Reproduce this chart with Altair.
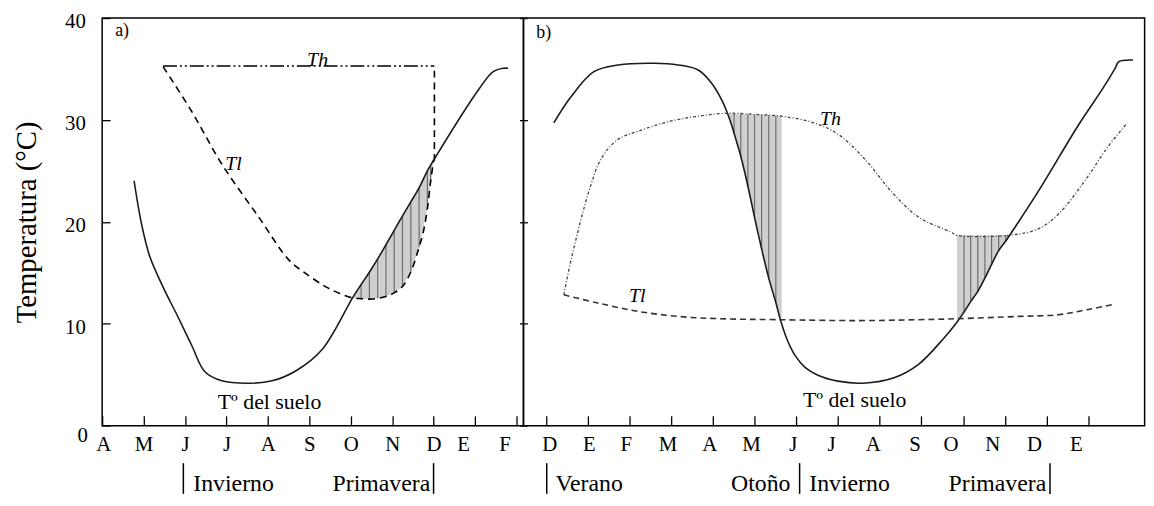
import altair as alt
import pandas as pd

FONT = "Liberation Serif"

# ---------------- panel a) : x = month index (A = 0 ... F = 10) ----------------
months_a = ["A", "M", "J", "J", "A", "S", "O", "N", "D", "E", "F"]

soil_a_x = [0.77, 0.95, 1.15, 1.47, 1.84, 2.16, 2.48, 2.89, 3.57, 4.10, 4.67, 5.31, 6.04, 6.25, 6.45,
            6.65, 6.85, 7.05, 7.25, 7.45, 7.65, 7.85, 7.99, 9.11, 9.44, 9.68, 9.80]
soil_a_y = [24.04, 19.80, 16.60, 13.60, 10.60, 7.90, 5.30, 4.41, 4.18, 4.41, 5.38, 7.49, 12.53, 13.85, 15.06,
            16.37, 17.76, 19.17, 20.59, 21.96, 23.34, 25.01, 25.99, 33.12, 34.74, 35.07, 35.07]

tl_a_x = [1.47, 2.16, 2.89, 3.78, 4.51, 4.91, 5.39, 5.72, 6.04, 6.25, 6.45, 6.65, 6.85, 7.05,
          7.25, 7.45, 7.65, 7.76, 7.85, 7.93, 8.00]
tl_a_y = [35.23, 30.85, 25.66, 20.47, 16.25, 14.96, 13.65, 13.01, 12.55, 12.47, 12.43, 12.50, 12.68, 13.04,
          13.67, 15.09, 17.52, 19.17, 21.30, 24.00, 25.99]
tl_a_vert_x = [8.02, 8.02]
tl_a_vert_y = [25.99, 35.30]

th_a_x = [1.47, 8.02]
th_a_y = [35.30, 35.30]

shade_a_x = [6.04, 6.25, 6.45, 6.65, 6.85, 7.05, 7.25, 7.45, 7.65, 7.85, 7.93, 8.00]
shade_a_lo = [12.53, 12.47, 12.43, 12.50, 12.68, 13.04, 13.67, 15.09, 17.52, 21.30, 24.00, 25.99]
shade_a_hi = [12.53, 13.85, 15.06, 16.37, 17.76, 19.17, 20.59, 21.96, 23.34, 25.01, 25.60, 25.99]

season_bars_a = [1.96, 8.00]
seasons_a_left = ["Invierno"]
seasons_a_left_x = [2.20]
seasons_a_right = ["Primavera"]
seasons_a_right_x = [7.92]

# ---------------- panel b) : x = month index (D = 0 ... E = 13) ----------------
months_b = ["D", "E", "F", "M", "A", "M", "J", "J", "A", "S", "O", "N", "D", "E"]

soil_b_x = [0.19, 0.58, 1.15, 1.73, 2.59, 3.17, 3.65, 3.94, 4.23, 4.42, 4.51, 4.67, 4.84, 5.00,
            5.17, 5.34, 5.51, 5.62, 5.78, 5.97, 6.21, 6.52, 7.00, 7.59, 8.36, 8.93, 9.51, 9.85,
            10.02, 10.18, 10.35, 10.52, 10.68, 10.85, 11.02, 11.11, 11.81, 12.77, 13.35, 13.64,
            13.73, 14.07]
soil_b_y = [29.71, 32.15, 34.74, 35.40, 35.56, 35.40, 34.91, 33.77, 31.83, 29.88, 28.69, 26.44, 23.52, 20.44,
            17.35, 14.49, 12.10, 10.41, 8.47, 6.91, 5.74, 4.96, 4.38, 4.18, 4.74, 6.03, 8.47, 10.15,
            11.16, 12.18, 13.19, 14.49, 15.83, 17.19, 18.13, 18.67, 23.07, 29.56, 33.12, 35.07,
            35.72, 35.88]

th_b_x = [0.43, 0.62, 1.06, 1.34, 1.73, 2.21, 2.98, 3.65, 4.34, 5.09, 5.65, 6.43, 7.01, 7.68,
          8.26, 8.93, 9.70, 9.85, 11.11, 11.81, 12.29, 12.97, 13.45, 13.93]
th_b_y = [12.85, 16.57, 23.39, 26.31, 28.10, 28.90, 29.88, 30.37, 30.66, 30.53, 30.37, 29.71, 28.58, 25.99,
          23.07, 20.47, 19.01, 18.69, 18.69, 19.34, 20.80, 24.36, 27.28, 29.71]

tl_b_x = [0.43, 1.25, 2.21, 3.17, 4.13, 5.57, 7.49, 8.93, 9.89, 11.33, 12.29, 12.97, 13.64]
tl_b_y = [12.85, 12.04, 11.22, 10.73, 10.51, 10.41, 10.32, 10.41, 10.51, 10.73, 10.90, 11.39, 11.94]

shade_b1_x = [4.34, 4.51, 4.67, 4.84, 5.00, 5.17, 5.34, 5.51, 5.65]
shade_b1_lo = [30.66, 28.69, 26.44, 23.52, 20.44, 17.35, 14.49, 12.10, 10.41]
shade_b1_hi = [30.66, 30.61, 30.56, 30.56, 30.53, 30.51, 30.46, 30.41, 30.37]

shade_b2_x = [9.85, 10.02, 10.18, 10.35, 10.52, 10.68, 10.85, 11.02, 11.11]
shade_b2_lo = [10.15, 11.16, 12.18, 13.19, 14.49, 15.83, 17.19, 18.13, 18.67]
shade_b2_hi = [18.69, 18.69, 18.69, 18.69, 18.69, 18.69, 18.69, 18.69, 18.67]

season_bars_b = [0.02, 6.08, 12.08]
seasons_b_left = ["Verano", "Invierno"]
seasons_b_left_x = [0.23, 6.31]
seasons_b_right = ["Otoño", "Primavera"]
seasons_b_right_x = [5.86, 11.99]

y_ticks = [0, 10, 20, 30, 40]

# annotations: (text, x, y[, font size])
anno_a_plain = [("a)", 0.48, 38.7, 18), ("Tº del suelo", 4.04, 2.37, 22)]
anno_a_italic = [("Th", 5.20, 35.9), ("Tl", 3.17, 25.66)]
anno_b_plain = [("b)", -0.05, 38.5, 18), ("Tº del suelo", 7.40, 2.56, 22)]
anno_b_italic = [("Th", 6.82, 30.13), ("Tl", 2.19, 12.68)]


def seq(xs, ys):
    return pd.DataFrame({"x": xs, "y": ys, "i": list(range(len(xs)))})


def band(xs, lo, hi):
    return pd.DataFrame({"x": xs, "y": lo, "y2": hi})


def x_axis(months, offset_cond):
    expr = "[" + ",".join("'%s'" % m for m in months) + "][datum.value]"
    return alt.Axis(values=list(range(len(months))), labelExpr=expr, title=None, grid=False,
                    domain=False, offset=-10, tickSize=10, tickColor="black", tickWidth=1.3,
                    labelPadding=8, labelFont=FONT, labelFontSize=21, labelColor="black",
                    labelFlush=False, labelOverlap=False, labelOffset=offset_cond)


H = 411.3
W_A = 425
W_B = 626.6

X_A = alt.X("x:Q", scale=alt.Scale(domain=[0.0, 10.17], nice=False, zero=False),
            axis=x_axis(months_a, {"condition": [{"test": "datum.value == 0", "value": 1},
                                                 {"test": "datum.value >= 9", "value": -12}],
                                   "value": 0}))
X_B = alt.X("x:Q", scale=alt.Scale(domain=[-0.537, 14.347], nice=False, zero=False),
            axis=x_axis(months_b, {"condition": [{"test": "datum.value >= 10", "value": -12.7},
                                                 {"test": "datum.value >= 7", "value": -7},
                                                 {"test": "datum.value >= 2", "value": -3.6},
                                                 {"test": "datum.value == 1", "value": 1.3}],
                                   "value": 3.4}))

Y_A = alt.Y("y:Q", scale=alt.Scale(domain=[0, 40], nice=False, zero=False),
            axis=alt.Axis(values=y_ticks, title="Temperatura (°C)", grid=False, domain=False,
                          offset=-8, tickSize=8, tickColor="black", tickWidth=1.3,
                          labelPadding={"condition": {"test": "datum.value == 0", "value": 15}, "value": 17},
                          labelOffset={"condition": {"test": "datum.value == 0", "value": 10}, "value": 4},
                          labelFont=FONT, labelFontSize=21, labelColor="black",
                          labelFlush=False, labelOverlap=False,
                          titleFont=FONT, titleFontSize=29, titleFontWeight="normal",
                          titleColor="black", titlePadding=23))
Y_B = alt.Y("y:Q", scale=alt.Scale(domain=[0, 40], nice=False, zero=False),
            axis=alt.Axis(values=y_ticks, labels=False, title=None, grid=False, domain=False,
                          offset=-4, tickSize=8, tickColor="black", tickWidth=1.3))


def shade_layers(X, Y, xs, lo, hi):
    df = band(xs, lo, hi)
    area = alt.Chart(df).mark_area(color="#cfcfcf", opacity=1).encode(x=X, y=Y, y2="y2:Q")
    hatch = alt.Chart(df.iloc[1:-1]).mark_rule(color="#6e6e6e", strokeWidth=1.2).encode(
        x=X, y=Y, y2="y2:Q")
    return [area, hatch]


def line_layer(X, Y, xs, ys, **style):
    return alt.Chart(seq(xs, ys)).mark_line(**style).encode(x=X, y=Y, order="i:Q")


def text_layers(X, Y, plain, italic):
    out = []
    for t, x, y, fs in plain:
        df = pd.DataFrame({"x": [x], "y": [y], "t": [t]})
        out.append(alt.Chart(df).mark_text(font=FONT, fontSize=fs, color="black",
                                           align="center", baseline="middle").encode(
            x=X, y=Y, text="t:N"))
    df = pd.DataFrame({"x": [a[1] for a in italic], "y": [a[2] for a in italic],
                       "t": [a[0] for a in italic]})
    out.append(alt.Chart(df).mark_text(font=FONT, fontSize=20, fontStyle="italic", color="black",
                                       align="center", baseline="middle").encode(
        x=X, y=Y, text="t:N"))
    return out


def season_layers(X, bars, left_t, left_x, right_t, right_x):
    out = []
    out.append(alt.Chart(pd.DataFrame({"x": bars})).mark_rule(color="black", strokeWidth=1.5).encode(
        x=X, y=alt.value(449), y2=alt.value(480)))
    out.append(alt.Chart(pd.DataFrame({"x": left_x, "t": left_t})).mark_text(
        font=FONT, fontSize=24, color="black", align="left", baseline="middle").encode(
        x=X, y=alt.value(470), text="t:N"))
    out.append(alt.Chart(pd.DataFrame({"x": right_x, "t": right_t})).mark_text(
        font=FONT, fontSize=24, color="black", align="right", baseline="middle").encode(
        x=X, y=alt.value(470), text="t:N"))
    return out


solid = dict(color="#1a1a1a", strokeWidth=1.6, interpolate="catmull-rom")

layers_a = []
layers_a += shade_layers(X_A, Y_A, shade_a_x, shade_a_lo, shade_a_hi)
layers_a.append(line_layer(X_A, Y_A, soil_a_x, soil_a_y, **solid))
layers_a.append(line_layer(X_A, Y_A, tl_a_x, tl_a_y, color="black", strokeWidth=1.6,
                           strokeDash=[7, 5], interpolate="catmull-rom"))
layers_a.append(line_layer(X_A, Y_A, tl_a_vert_x, tl_a_vert_y, color="black", strokeWidth=1.6,
                           strokeDash=[7, 5]))
layers_a.append(line_layer(X_A, Y_A, th_a_x, th_a_y, color="black", strokeWidth=1.4,
                           strokeDash=[14, 3, 2, 3, 2, 3]))
layers_a += text_layers(X_A, Y_A, anno_a_plain, anno_a_italic)
layers_a += season_layers(X_A, season_bars_a, seasons_a_left, seasons_a_left_x,
                          seasons_a_right, seasons_a_right_x)
panel_a = alt.layer(*layers_a).properties(width=W_A, height=H)

layers_b = []
layers_b += shade_layers(X_B, Y_B, shade_b1_x, shade_b1_lo, shade_b1_hi)
layers_b += shade_layers(X_B, Y_B, shade_b2_x, shade_b2_lo, shade_b2_hi)
layers_b.append(line_layer(X_B, Y_B, soil_b_x, soil_b_y, **solid))
layers_b.append(line_layer(X_B, Y_B, th_b_x, th_b_y, interpolate="catmull-rom", color="#444444",
                           strokeWidth=1.3, strokeDash=[3, 2, 1, 2]))
layers_b.append(line_layer(X_B, Y_B, tl_b_x, tl_b_y, interpolate="catmull-rom", color="#333333",
                           strokeWidth=1.6, strokeDash=[6, 4]))
layers_b += text_layers(X_B, Y_B, anno_b_plain, anno_b_italic)
layers_b += season_layers(X_B, season_bars_b, seasons_b_left, seasons_b_left_x,
                          seasons_b_right, seasons_b_right_x)
panel_b = alt.layer(*layers_b).properties(width=W_B, height=H)

chart = alt.hconcat(panel_a, panel_b, spacing=0, bounds="flush").properties(
    padding={"left": 4, "top": 0, "right": 0, "bottom": 0}
).configure_view(stroke="black", strokeWidth=1.5)

chart.save("out.html", embed_options={"renderer": "svg", "actions": False})
